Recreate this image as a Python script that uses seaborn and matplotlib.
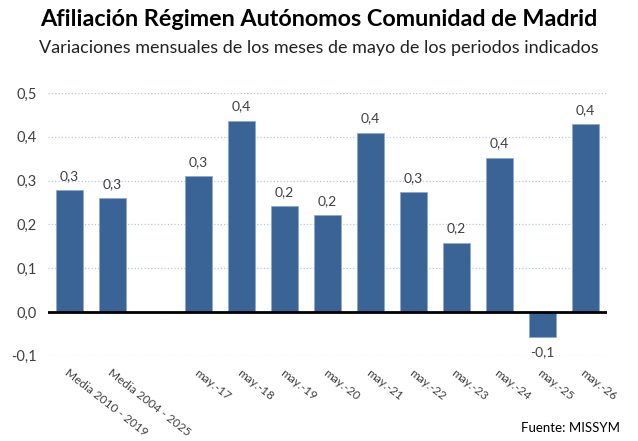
import numpy as np
import pandas as pd
import matplotlib
matplotlib.use("Agg")
import matplotlib.pyplot as plt
import seaborn as sns

categories = ["Media 2010 - 2019", "Media 2004 - 2025", " ",
              "may.-17", "may.-18", "may.-19", "may.-20", "may.-21",
              "may.-22", "may.-23", "may.-24", "may.-25", "may.-26"]
values = [0.278, 0.260, np.nan,
          0.310, 0.437, 0.242, 0.221, 0.409,
          0.274, 0.158, 0.352, -0.058, 0.429]
yticks = [-0.1, 0.0, 0.1, 0.2, 0.3, 0.4, 0.5]

sns.set_style("white")
plt.rcParams['font.family'] = ['Lato', 'DejaVu Sans']

df = pd.DataFrame({"cat": categories, "val": values})

fig = plt.figure(figsize=(6.38, 4.41), dpi=100)
ax = fig.add_axes([0.0752, 0.193, 0.876, 0.596])

sns.barplot(data=df, x="cat", y="val", order=categories, color="#3a6496",
            saturation=1, width=0.62, edgecolor="#8fa9cc", linewidth=0.6, ax=ax)

ax.set_ylim(-0.1, 0.5)
ax.set_xlim(-0.5, len(categories) - 0.5)
ax.set_yticks(yticks)
ax.set_yticklabels([f"{t:.1f}".replace(".", ",") for t in yticks])
ax.grid(axis="y", color="#b4c7e7", linestyle=":", linewidth=0.9)
ax.set_axisbelow(True)
ax.axhline(0, color="black", linewidth=2, zorder=3)
for s in ax.spines.values():
    s.set_visible(False)
ax.tick_params(axis="both", length=0, labelcolor="#404040")
ax.tick_params(axis="y", pad=8, labelsize=10.5)
ax.tick_params(axis="x", pad=8, labelsize=8.6)
ax.set_xlabel("")
ax.set_ylabel("")
for lab in ax.get_xticklabels():
    lab.set_rotation(-38)
    lab.set_ha("left")
    lab.set_va("top")
    lab.set_rotation_mode("anchor")

for cont in ax.containers:
    labs = ["" if np.isnan(v) else f"{v:.1f}".replace(".", ",") for v in cont.datavalues]
    ax.bar_label(cont, labels=labs, padding=6, fontsize=10, color="#404040")

fig.text(0.5, 0.955, "Afiliación Régimen Autónomos Comunidad de Madrid",
         ha="center", va="center", fontsize=16.8, fontweight="bold", color="black")
fig.text(0.5, 0.891, "Variaciones mensuales de los meses de mayo de los periodos indicados",
         ha="center", va="center", fontsize=13, color="#222222")
fig.text(0.972, 0.03, "Fuente: MISSYM", ha="right", va="center",
         fontsize=9.5, color="black")

fig.savefig("out.png", dpi=100)
